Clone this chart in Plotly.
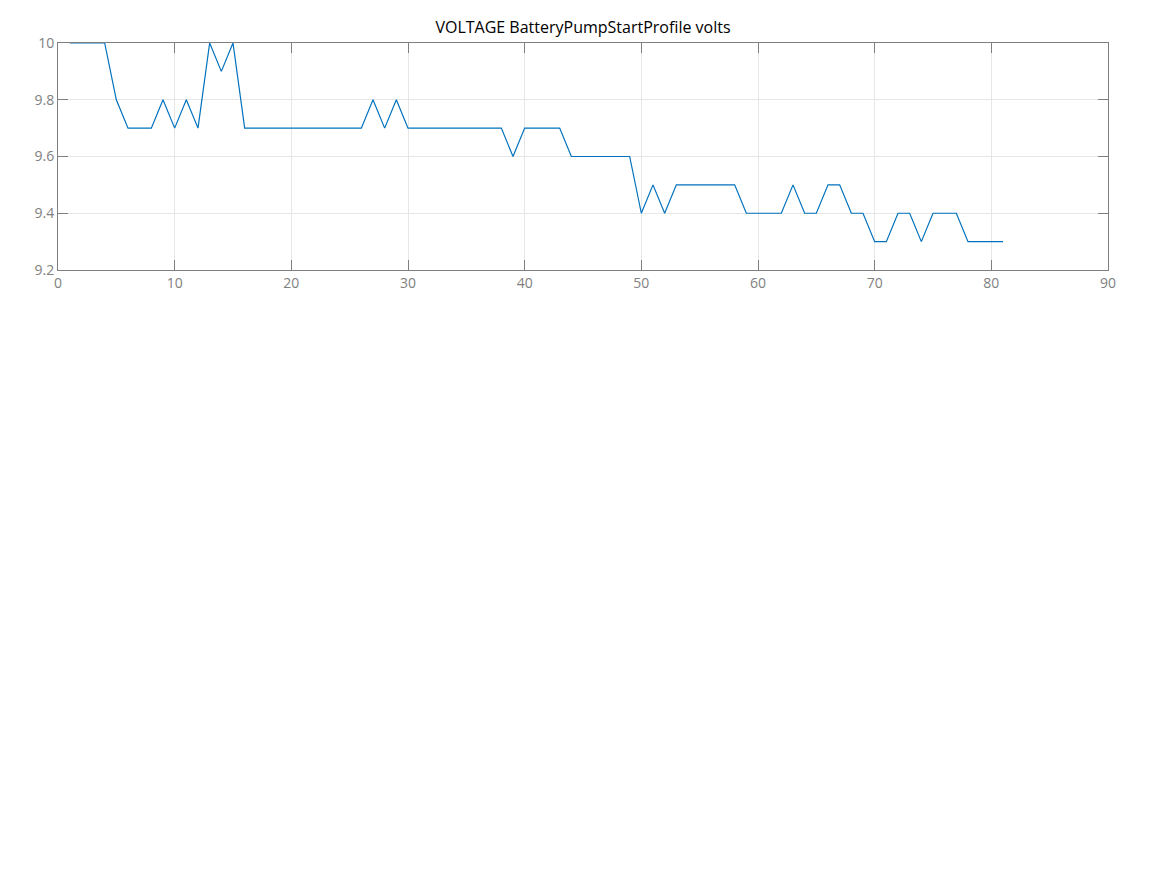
import plotly.graph_objects as go

x_index = list(range(1, 82))
volts = [10, 10, 10, 10, 9.8, 9.7, 9.7, 9.7, 9.8, 9.7,
         9.8, 9.7, 10, 9.9, 10, 9.7, 9.7, 9.7, 9.7, 9.7,
         9.7, 9.7, 9.7, 9.7, 9.7, 9.7, 9.8, 9.7, 9.8, 9.7,
         9.7, 9.7, 9.7, 9.7, 9.7, 9.7, 9.7, 9.7, 9.6, 9.7,
         9.7, 9.7, 9.7, 9.6, 9.6, 9.6, 9.6, 9.6, 9.6, 9.4,
         9.5, 9.4, 9.5, 9.5, 9.5, 9.5, 9.5, 9.5, 9.4, 9.4,
         9.4, 9.4, 9.5, 9.4, 9.4, 9.5, 9.5, 9.4, 9.4, 9.3,
         9.3, 9.4, 9.4, 9.3, 9.4, 9.4, 9.4, 9.3, 9.3, 9.3,
         9.3]

x_ticks = [0, 10, 20, 30, 40, 50, 60, 70, 80, 90]
y_ticks = [9.2, 9.4, 9.6, 9.8, 10]
y_tick_labels = ["9.2", "9.4", "9.6", "9.8", "10"]

fig = go.Figure()
fig.add_trace(go.Scatter(x=x_index, y=volts, mode="lines",
                         line=dict(color="#0072BD", width=1.2),
                         showlegend=False))

axis_common = dict(showline=True, linecolor="#7f7f7f", linewidth=1, mirror="ticks",
                   ticks="inside", ticklen=10, tickcolor="#7f7f7f", tickwidth=1,
                   showgrid=True, gridcolor="#e6e6e6", gridwidth=1, zeroline=False,
                   tickfont=dict(family="Open Sans, Noto Sans, sans-serif", size=14, color="#808080"))

fig.update_xaxes(range=[0, 90], tickvals=x_ticks, **axis_common)
fig.update_yaxes(range=[9.2, 10], tickvals=y_ticks, ticktext=y_tick_labels, **axis_common)

fig.update_layout(
    width=1167, height=875,
    margin=dict(l=50, r=67, t=35, b=613),
    paper_bgcolor="white", plot_bgcolor="white",
    title=dict(text="VOLTAGE BatteryPumpStartProfile volts", x=(50 + 1050 / 2) / 1167, xanchor="center",
               y=1 - 19/875, yanchor="middle",
               font=dict(family="Open Sans, Noto Sans, sans-serif", size=16, color="#000000")),
)

fig.write_html("out.html")
